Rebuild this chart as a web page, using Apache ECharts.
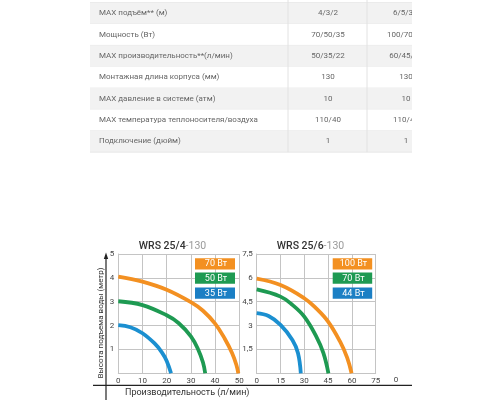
<!DOCTYPE html>
<html><head><meta charset="utf-8">
<script src="https://cdn.jsdelivr.net/npm/echarts@6/dist/echarts.min.js"></script>
<style>html,body{margin:0;padding:0;background:#fff}#c{width:500px;height:400px}</style>
</head><body><div id="c"></div>
<script>
// ---- table data ----
const rowLabels = ['МАХ подъём** (м)','Мощность (Вт)','МАХ производительность**(л/мин)','Монтажная длина корпуса (мм)','МАХ давление в системе (атм)','МАХ температура теплоносителя/воздуха','Подключение (дюйм)'];
const colWrs4 = ['4/3/2','70/50/35','50/35/22','130','10','110/40','1'];
const colWrs6 = ['6/5/3,8','100/70/44','60/45/28','130','10','110/40','1'];

// ---- chart data ----
const titleLeft = ['WRS 25/4','-130'];
const titleRight = ['WRS 25/6','-130'];
const legendLeft = ['70 Вт','50 Вт','35 Вт'];
const legendRight = ['100 Вт','70 Вт','44 Вт'];
const yTitle = 'Высота подъема воды (метр)';
const xTitle = 'Производительность (л/мин)';
// WRS 25/4 curves [flow l/min, head m]
const wrs4_70 = [[0,4.05],[10,3.84],[20,3.5],[30,2.98],[35,2.62],[40,2.08],[44,1.45],[47,0.85],[48.8,0.35],[49.6,0]];
const wrs4_50 = [[0,3.02],[10,2.86],[20,2.43],[25,2.1],[30,1.55],[33,1.0],[35,0.45],[35.9,0]];
const wrs4_35 = [[0,2.02],[5,1.93],[10,1.68],[15,1.25],[18,0.88],[20,0.52],[21.8,0]];
// WRS 25/6 curves
const wrs6_100 = [[0,5.95],[15,5.55],[30,4.72],[37.5,4.08],[45,3.25],[52.5,2.0],[57,0.98],[59.8,0]];
const wrs6_70 = [[0,5.27],[15,4.82],[22.5,4.3],[30,3.56],[37.5,2.32],[42,1.28],[45.2,0]];
const wrs6_44 = [[0,3.78],[7.5,3.6],[15,3.04],[22.5,2.1],[26,1.28],[27.8,0]];
const strayLabel = '0';

const ORANGE = '#f39021', GREEN = '#1e9a52', BLUE = '#1b8fd0', BLUEBOX = '#1b7fc4';
const FONT = 'Roboto, "Noto Sans", sans-serif';

const graphic = [];
// table
const tX0 = 90, tX1 = 412, tY0 = 2.7, rowH = 21.35, c1 = 288, c2 = 367;
graphic.push({type:'line', shape:{x1:tX0,y1:tY0,x2:tX1,y2:tY0}, style:{stroke:'#e4e4e4',lineWidth:1}});
rowLabels.forEach((lab,i)=>{
  const y = tY0 + i*rowH;
  graphic.push({type:'rect', shape:{x:tX0,y:y,width:tX1-tX0,height:rowH}, style:{fill: i%2===0 ? '#f2f2f2' : '#ffffff'}});
  graphic.push({type:'line', shape:{x1:tX0,y1:y+rowH,x2:tX1,y2:y+rowH}, style:{stroke:'#e8e8e8',lineWidth:1}});
  graphic.push({type:'text', style:{text:lab, x:99, y:y+rowH/2, fill:'#666', font:'8px '+FONT, textAlign:'left', textVerticalAlign:'middle', align:'left', verticalAlign:'middle'}});
  graphic.push({type:'text', style:{text:colWrs4[i], x:328, y:y+rowH/2, fill:'#666', font:'8px '+FONT, textAlign:'center', textVerticalAlign:'middle', align:'center', verticalAlign:'middle'}});
  graphic.push({type:'text', style:{text:colWrs6[i], x:406, y:y+rowH/2, fill:'#666', font:'8px '+FONT, textAlign:'center', textVerticalAlign:'middle', align:'center', verticalAlign:'middle'}});
});
[c1,c2].forEach(x=>graphic.push({type:'line', shape:{x1:x,y1:0,x2:x,y2:tY0+7*rowH}, style:{stroke:'#e2e2e2',lineWidth:1}}));
graphic.push({type:'rect', shape:{x:tX1,y:0,width:100,height:170}, style:{fill:'#fff'}});

// titles
function titleText(parts, x){
  graphic.push({type:'text', style:{text:'{a|'+parts[0]+'}{b|'+parts[1]+'}', x:x, y:246.5, textAlign:'center', textVerticalAlign:'middle', align:'center', verticalAlign:'middle',
    rich:{a:{fontSize:10.5, fontWeight:500, fontFamily:FONT, fill:'#333', color:'#333'}, b:{fontSize:10.5, fontFamily:FONT, fill:'#9a9a9a', color:'#9a9a9a'}}}});
}
titleText(titleLeft, 172.5);
titleText(titleRight, 310.5);

// legend boxes
const boxColors = [ORANGE, GREEN, BLUEBOX];
function legendBoxes(labels, x, w){
  const ys = [258.2, 272.6, 287.6];
  labels.forEach((t,i)=>{
    graphic.push({type:'rect', z:10, shape:{x:x,y:ys[i],width:w,height:11.2}, style:{fill:boxColors[i]}});
    graphic.push({type:'text', z:11, style:{text:t, x:x+w/2+1, y:ys[i]+5.8, fill:'#fff', font:'9px '+FONT, textAlign:'center', textVerticalAlign:'middle', align:'center', verticalAlign:'middle'}});
  });
}
legendBoxes(legendLeft, 195, 40);
legendBoxes(legendRight, 332.7, 39.5);

// axes decorations
graphic.push({type:'line', shape:{x1:106,y1:257,x2:106,y2:400}, style:{stroke:'#222',lineWidth:1.2}});
graphic.push({type:'polygon', shape:{points:[[106,252.5],[103.8,259],[108.2,259]]}, style:{fill:'#222'}});
graphic.push({type:'line', shape:{x1:93,y1:385.3,x2:412,y2:385.3}, style:{stroke:'#222',lineWidth:1.2}});
graphic.push({type:'text', style:{text:yTitle, x:101, y:323, fill:'#333', font:'8px '+FONT, textAlign:'center', textVerticalAlign:'middle', align:'center', verticalAlign:'middle'}, rotation:Math.PI/2, x:0, y:0, originX:101, originY:323});
graphic.push({type:'text', style:{text:xTitle, x:125, y:392.5, fill:'#333', font:'9px '+FONT, textAlign:'left', textVerticalAlign:'middle', align:'left', verticalAlign:'middle'}});
graphic.push({type:'text', style:{text:strayLabel, x:396, y:379.5, fill:'#444', font:'8px '+FONT, textAlign:'center', textVerticalAlign:'middle', align:'center', verticalAlign:'middle'}});

const gridLine = {show:true, lineStyle:{color:'#c4c4c4', width:1}};
const axisLine = {show:true, lineStyle:{color:'#c4c4c4', width:1}};
const lbl = {color:'#444', fontSize:8, fontFamily:FONT};

function xAx(gi, max, interval){
  return {type:'value', gridIndex:gi, min:0, max:max, interval:interval, splitLine:gridLine, axisLine:axisLine, axisTick:{show:false},
    axisLabel:Object.assign({margin:4}, lbl)};
}
function yAx(gi, max, interval){
  return {type:'value', gridIndex:gi, min:0, max:max, interval:interval, splitLine:gridLine, axisLine:axisLine, axisTick:{show:false},
    axisLabel:Object.assign({margin:4, padding:[5,0,0,0], formatter:v=> v===0 ? '' : String(v).replace('.',',')}, lbl)};
}
function ser(data, color, xi){
  return {type:'line', xAxisIndex:xi, yAxisIndex:xi, data:data, smooth:0.4, showSymbol:false, symbol:'none', lineStyle:{color:color, width:3.8}, itemStyle:{color:color}, silent:true, animation:false};
}

const chart = echarts.init(document.getElementById('c'), null, {renderer:'canvas'});
chart.setOption({
  animation:false,
  backgroundColor:'#fff',
  grid:[
    {left:118.3, top:254, width:121, height:119.3},
    {left:256.7, top:254, width:119, height:119.3}
  ],
  xAxis:[xAx(0,50,10), xAx(1,75,15)],
  yAxis:[yAx(0,5,1), yAx(1,7.5,1.5)],
  series:[
    ser(wrs4_70, ORANGE, 0), ser(wrs4_50, GREEN, 0), ser(wrs4_35, BLUE, 0),
    ser(wrs6_100, ORANGE, 1), ser(wrs6_70, GREEN, 1), ser(wrs6_44, BLUE, 1)
  ],
  graphic:graphic
});
</script></body></html>
